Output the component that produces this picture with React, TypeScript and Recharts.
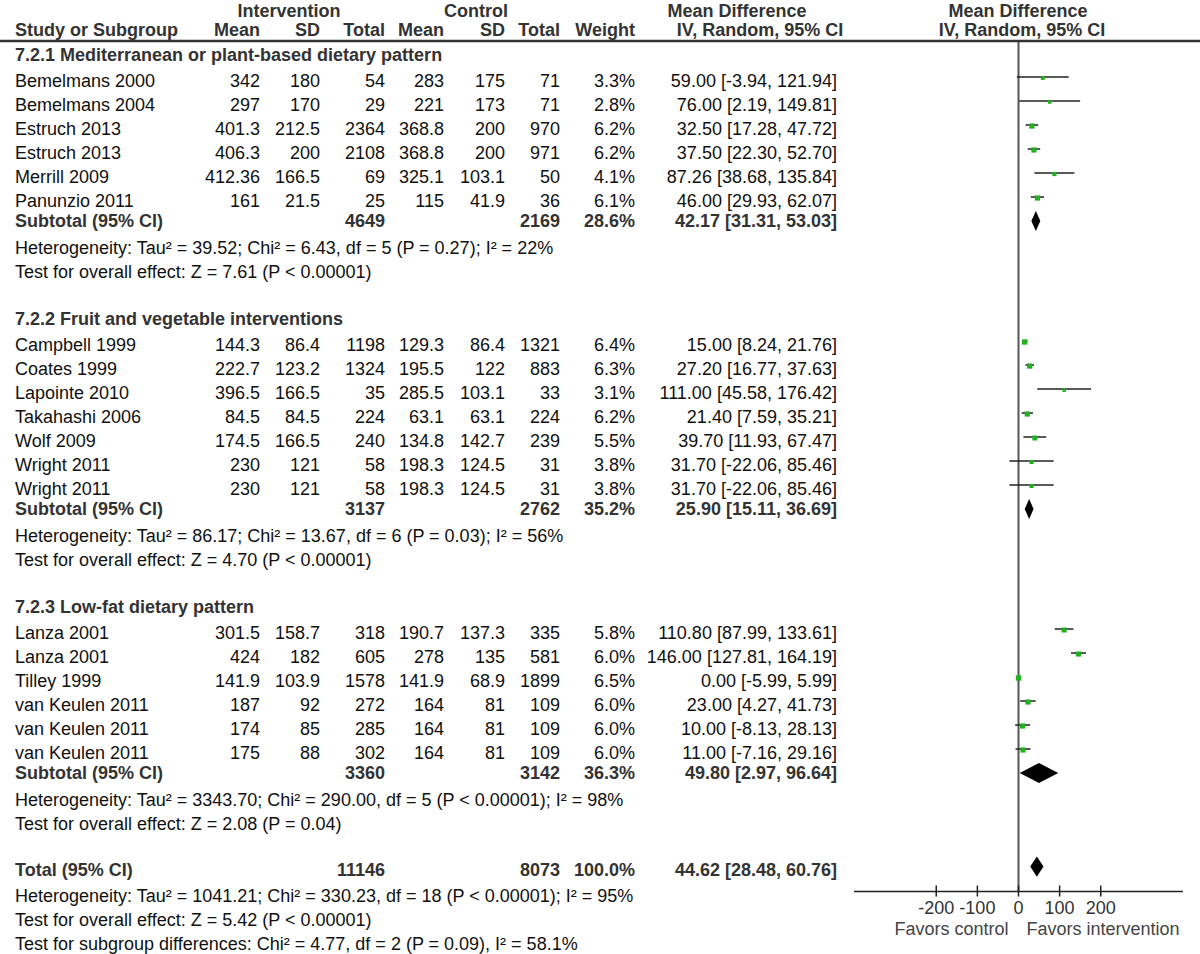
import React from 'react';
import { ComposedChart, Scatter, ErrorBar, XAxis, YAxis, ReferenceLine, ReferenceArea } from 'recharts';

// ---- data ----
const groupTitles = [
  '7.2.1 Mediterranean or plant-based dietary pattern',
  '7.2.2 Fruit and vegetable interventions',
  '7.2.3 Low-fat dietary pattern',
];

const studyNames = [
  'Bemelmans 2000', 'Bemelmans 2004', 'Estruch 2013', 'Estruch 2013', 'Merrill 2009', 'Panunzio 2011',
  'Campbell 1999', 'Coates 1999', 'Lapointe 2010', 'Takahashi 2006', 'Wolf 2009', 'Wright 2011', 'Wright 2011',
  'Lanza 2001', 'Lanza 2001', 'Tilley 1999', 'van Keulen 2011', 'van Keulen 2011', 'van Keulen 2011',
];
const studyGroup = [0, 0, 0, 0, 0, 0, 1, 1, 1, 1, 1, 1, 1, 2, 2, 2, 2, 2, 2];

const intMean = [342, 297, 401.3, 406.3, 412.36, 161, 144.3, 222.7, 396.5, 84.5, 174.5, 230, 230, 301.5, 424, 141.9, 187, 174, 175];
const intSD = [180, 170, 212.5, 200, 166.5, 21.5, 86.4, 123.2, 166.5, 84.5, 166.5, 121, 121, 158.7, 182, 103.9, 92, 85, 88];
const intTotal = [54, 29, 2364, 2108, 69, 25, 1198, 1324, 35, 224, 240, 58, 58, 318, 605, 1578, 272, 285, 302];
const ctlMean = [283, 221, 368.8, 368.8, 325.1, 115, 129.3, 195.5, 285.5, 63.1, 134.8, 198.3, 198.3, 190.7, 278, 141.9, 164, 164, 164];
const ctlSD = [175, 173, 200, 200, 103.1, 41.9, 86.4, 122, 103.1, 63.1, 142.7, 124.5, 124.5, 137.3, 135, 68.9, 81, 81, 81];
const ctlTotal = [71, 71, 970, 971, 50, 36, 1321, 883, 33, 224, 239, 31, 31, 335, 581, 1899, 109, 109, 109];
const weights = [3.3, 2.8, 6.2, 6.2, 4.1, 6.1, 6.4, 6.3, 3.1, 6.2, 5.5, 3.8, 3.8, 5.8, 6.0, 6.5, 6.0, 6.0, 6.0];
const meanDiff = [59.0, 76.0, 32.5, 37.5, 87.26, 46.0, 15.0, 27.2, 111.0, 21.4, 39.7, 31.7, 31.7, 110.8, 146.0, 0.0, 23.0, 10.0, 11.0];
const ciLow = [-3.94, 2.19, 17.28, 22.3, 38.68, 29.93, 8.24, 16.77, 45.58, 7.59, 11.93, -22.06, -22.06, 87.99, 127.81, -5.99, 4.27, -8.13, -7.16];
const ciHigh = [121.94, 149.81, 47.72, 52.7, 135.84, 62.07, 21.76, 37.63, 176.42, 35.21, 67.47, 85.46, 85.46, 133.61, 164.19, 5.99, 41.73, 28.13, 29.16];

const subIntTotal = [4649, 3137, 3360];
const subCtlTotal = [2169, 2762, 3142];
const subWeight = [28.6, 35.2, 36.3];
const subMean = [42.17, 25.9, 49.8];
const subLow = [31.31, 15.11, 2.97];
const subHigh = [53.03, 36.69, 96.64];
const subHeterogeneity = [
  'Heterogeneity: Tau² = 39.52; Chi² = 6.43, df = 5 (P = 0.27); I² = 22%',
  'Heterogeneity: Tau² = 86.17; Chi² = 13.67, df = 6 (P = 0.03); I² = 56%',
  'Heterogeneity: Tau² = 3343.70; Chi² = 290.00, df = 5 (P < 0.00001); I² = 98%',
];
const subEffect = [
  'Test for overall effect: Z = 7.61 (P < 0.00001)',
  'Test for overall effect: Z = 4.70 (P < 0.00001)',
  'Test for overall effect: Z = 2.08 (P = 0.04)',
];

const totalCounts = [11146, 8073];
const totalEstimate = [44.62, 28.48, 60.76];
const totalNotes = [
  'Heterogeneity: Tau² = 1041.21; Chi² = 330.23, df = 18 (P < 0.00001); I² = 95%',
  'Test for overall effect: Z = 5.42 (P < 0.00001)',
  'Test for subgroup differences: Chi² = 4.77, df = 2 (P = 0.09), I² = 58.1%',
];

const xTicks = [-200, -100, 0, 100, 200];
const axisLabels = ['Favors control', 'Favors intervention'];

// ---- layout ----
const W = 1200;
const H = 954;
const PLOT_LEFT = 854;
const PLOT_RIGHT = 1183;
const PLOT_TOP = 41;
const AXIS_Y = 891.5;
const ROW0 = 77;
const ROW_H = 24;
const FONT = '"Liberation Sans", Arial, Helvetica, sans-serif';
const FS = 18;
const INK = '#111';
const BOLD_INK = '#333';
const GREEN = '#22b022';

const COL = { name: 15, im: 260, isd: 320, itot: 385, cm: 444, csd: 505, ctot: 560, w: 635, ci: 837 };

const rowY = (r: number) => ROW0 + ROW_H * r;
const fmtCI = (m: number, lo: number, hi: number) => `${m.toFixed(2)} [${lo.toFixed(2)}, ${hi.toFixed(2)}]`;

type Row =
  | { kind: 'group'; r: number; text: string }
  | { kind: 'study'; r: number; i: number }
  | { kind: 'subtotal'; r: number; g: number }
  | { kind: 'note'; r: number; text: string }
  | { kind: 'total'; r: number };

const rows: Row[] = [];
let cursor = -1;
groupTitles.forEach((title, g) => {
  rows.push({ kind: 'group', r: cursor++, text: title });
  studyNames.forEach((_, i) => {
    if (studyGroup[i] === g) rows.push({ kind: 'study', r: cursor++, i });
  });
  rows.push({ kind: 'subtotal', r: cursor++, g });
  rows.push({ kind: 'note', r: cursor++, text: subHeterogeneity[g] });
  rows.push({ kind: 'note', r: cursor++, text: subEffect[g] });
  cursor++;
});
const totalRow = cursor;
rows.push({ kind: 'total', r: cursor++ });
totalNotes.forEach((t) => rows.push({ kind: 'note', r: cursor++, text: t }));

const studyRow = (i: number) => (rows.find((x) => x.kind === 'study' && x.i === i) as Row).r;
const subtotalRow = (g: number) => (rows.find((x) => x.kind === 'subtotal' && x.g === g) as Row).r;

const studyPoints = studyNames.map((name, i) => ({
  name,
  x: meanDiff[i],
  y: studyRow(i),
  err: [meanDiff[i] - ciLow[i], ciHigh[i] - meanDiff[i]],
  w: weights[i],
}));

const diamonds = [
  ...subMean.map((m, g) => ({ lo: subLow[g], hi: subHigh[g], r: subtotalRow(g) })),
  { lo: totalEstimate[1], hi: totalEstimate[2], r: totalRow - 0.1 },
];

const Square = (p: any) => {
  const { cx, cy, payload } = p;
  const s = 2.1 * Math.sqrt(payload.w);
  return <rect x={cx - s / 2} y={cy - s / 2 + 1} width={s} height={s} fill={GREEN} />;
};

const Diamond = (p: any) => {
  const { x, y, width, height } = p;
  const mx = x + width / 2;
  const my = y + height / 2;
  return <polygon points={`${x},${my} ${mx},${y} ${x + width},${my} ${mx},${y + height}`} fill="#000" />;
};

const AxisTick = (p: any) => {
  const { x, y, payload } = p;
  return (
    <g>
      <line x1={x} x2={x} y1={y - 6} y2={y + 5} stroke="#222" strokeWidth={1.5} />
      <text x={x} y={y + 22} textAnchor="middle" fontSize={FS} fontFamily={FONT} fill="#333">
        {payload.value}
      </text>
    </g>
  );
};

const T = ({ x, y, anchor = 'start', bold = false, children }: any) => (
  <text
    x={x}
    y={y}
    textAnchor={anchor}
    fontSize={FS}
    fontFamily={FONT}
    fontWeight={bold ? 700 : 400}
    fill={bold ? BOLD_INK : INK}
  >
    {children}
  </text>
);

const TableText = () => {
  const items: React.ReactNode[] = [];
  rows.forEach((row, k) => {
    const y = rowY(row.r);
    if (row.kind === 'group') {
      items.push(<T key={k} x={COL.name} y={y + 7.5} bold>{row.text}</T>);
    } else if (row.kind === 'note') {
      items.push(<T key={k} x={COL.name} y={y + 8.5}>{row.text}</T>);
    } else if (row.kind === 'study') {
      const i = row.i;
      const b = y + 9.5;
      items.push(
        <g key={k}>
          <T x={COL.name} y={b}>{studyNames[i]}</T>
          <T x={COL.im} y={b} anchor="end">{String(intMean[i])}</T>
          <T x={COL.isd} y={b} anchor="end">{String(intSD[i])}</T>
          <T x={COL.itot} y={b} anchor="end">{String(intTotal[i])}</T>
          <T x={COL.cm} y={b} anchor="end">{String(ctlMean[i])}</T>
          <T x={COL.csd} y={b} anchor="end">{String(ctlSD[i])}</T>
          <T x={COL.ctot} y={b} anchor="end">{String(ctlTotal[i])}</T>
          <T x={COL.w} y={b} anchor="end">{`${weights[i].toFixed(1)}%`}</T>
          <T x={COL.ci} y={b} anchor="end">{fmtCI(meanDiff[i], ciLow[i], ciHigh[i])}</T>
        </g>
      );
    } else if (row.kind === 'subtotal') {
      const g = row.g;
      const b = y + 6;
      items.push(
        <g key={k}>
          <T x={COL.name} y={b} bold>Subtotal (95% CI)</T>
          <T x={COL.itot} y={b} anchor="end" bold>{String(subIntTotal[g])}</T>
          <T x={COL.ctot} y={b} anchor="end" bold>{String(subCtlTotal[g])}</T>
          <T x={COL.w} y={b} anchor="end" bold>{`${subWeight[g].toFixed(1)}%`}</T>
          <T x={COL.ci} y={b} anchor="end" bold>{fmtCI(subMean[g], subLow[g], subHigh[g])}</T>
        </g>
      );
    } else {
      const b = y + 6.5;
      items.push(
        <g key={k}>
          <T x={COL.name} y={b} bold>Total (95% CI)</T>
          <T x={COL.itot} y={b} anchor="end" bold>{String(totalCounts[0])}</T>
          <T x={COL.ctot} y={b} anchor="end" bold>{String(totalCounts[1])}</T>
          <T x={COL.w} y={b} anchor="end" bold>100.0%</T>
          <T x={COL.ci} y={b} anchor="end" bold>{fmtCI(totalEstimate[0], totalEstimate[1], totalEstimate[2])}</T>
        </g>
      );
    }
  });
  return <>{items}</>;
};

export default function App() {
  const zeroX = PLOT_LEFT + (PLOT_RIGHT - PLOT_LEFT) / 2;
  return (
    <div style={{ position: 'absolute', left: 0, top: 0, width: W, height: H, background: '#fff' }}>
      <div style={{ position: 'absolute', left: 0, top: 0 }}>
        <ComposedChart
          width={W}
          height={H}
          margin={{ top: PLOT_TOP, right: W - PLOT_RIGHT, bottom: 0, left: PLOT_LEFT }}
        >
          <XAxis
            type="number"
            dataKey="x"
            domain={[-400, 400]}
            ticks={xTicks}
            interval={0}
            allowDataOverflow
            height={H - AXIS_Y}
            axisLine={{ stroke: '#222', strokeWidth: 1.5 }}
            tickLine={false}
            tickSize={0}
            tickMargin={0}
            tick={<AxisTick />}
          />
          <YAxis
            type="number"
            dataKey="y"
            domain={[(PLOT_TOP - ROW0) / ROW_H, (AXIS_Y - ROW0) / ROW_H]}
            reversed
            hide
            allowDataOverflow
          />
          <ReferenceLine x={0} stroke="#555" strokeWidth={2} />
          {diamonds.map((d, k) => (
            <ReferenceArea
              key={k}
              x1={d.lo}
              x2={d.hi}
              y1={d.r - 0.42}
              y2={d.r + 0.42}
              shape={<Diamond />}
            />
          ))}
          <Scatter data={studyPoints} shape={<Square />} isAnimationActive={false}>
            <ErrorBar dataKey="err" direction="x" width={0} stroke="#222" strokeWidth={1.5} />
          </Scatter>
        </ComposedChart>
      </div>
      <svg
        width={W}
        height={H}
        style={{ position: 'absolute', left: 0, top: 0, pointerEvents: 'none' }}
      >
        <T x={289} y={16.5} anchor="middle" bold>Intervention</T>
        <T x={476} y={16.5} anchor="middle" bold>Control</T>
        <T x={737} y={16.5} anchor="middle" bold>Mean Difference</T>
        <T x={1018} y={16.5} anchor="middle" bold>Mean Difference</T>
        <T x={COL.name} y={35.5} bold>Study or Subgroup</T>
        <T x={COL.im} y={35.5} anchor="end" bold>Mean</T>
        <T x={COL.isd} y={35.5} anchor="end" bold>SD</T>
        <T x={COL.itot} y={35.5} anchor="end" bold>Total</T>
        <T x={COL.cm} y={35.5} anchor="end" bold>Mean</T>
        <T x={COL.csd} y={35.5} anchor="end" bold>SD</T>
        <T x={COL.ctot} y={35.5} anchor="end" bold>Total</T>
        <T x={COL.w} y={35.5} anchor="end" bold>Weight</T>
        <T x={760} y={35.5} anchor="middle" bold>IV, Random, 95% CI</T>
        <T x={1022} y={35.5} anchor="middle" bold>IV, Random, 95% CI</T>
        <line x1={0} x2={W} y1={41} y2={41} stroke="#333" strokeWidth={2.5} />
        <TableText />
        <text x={zeroX - 10} y={934.5} textAnchor="end" fontSize={FS} fontFamily={FONT} fill="#444">
          {axisLabels[0]}
        </text>
        <text x={zeroX + 8} y={934.5} textAnchor="start" fontSize={FS} fontFamily={FONT} fill="#444">
          {axisLabels[1]}
        </text>
      </svg>
    </div>
  );
}
